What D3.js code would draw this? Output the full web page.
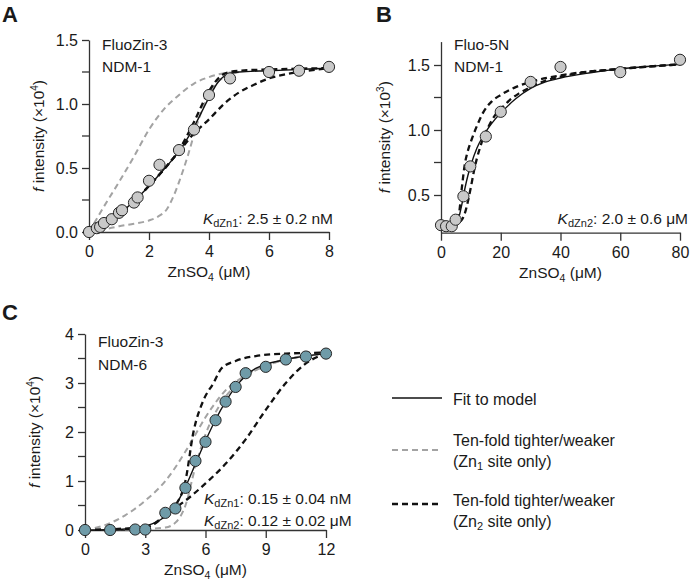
<!DOCTYPE html>
<html><head><meta charset="utf-8">
<script src="https://cdn.jsdelivr.net/npm/d3@7"></script>
<style>
body{margin:0;background:#fff}
svg{display:block}
text{font-family:"Liberation Sans",Arial,Helvetica,sans-serif;fill:#1a1a1a}
</style>
</head><body>
<svg id="chart" width="690" height="585"></svg>
<script>
// ---------- Panel A data (FluoZin-3 / NDM-1) ----------
const aPtsX = [0, 0.26, 0.37, 0.5, 0.76, 1.0, 1.1, 1.5, 1.62, 2.0, 2.35, 3.0, 3.5, 4.0, 4.7, 6.0, 7.0, 8.0];
const aPtsY = [0, 0.03, 0.04, 0.07, 0.10, 0.15, 0.17, 0.23, 0.27, 0.40, 0.525, 0.64, 0.80, 1.07, 1.20, 1.25, 1.26, 1.29];
const aFit = [[0,0],[0.25,0.025],[0.5,0.06],[1,0.14],[1.5,0.24],[2,0.36],[2.5,0.49],[3,0.63],[3.5,0.82],[4,1.05],[4.3,1.17],[4.6,1.23],[5,1.25],[6,1.26],[7,1.27],[8,1.28]];
const aZn2Tight = [[0,0],[0.5,0.06],[1,0.14],[1.5,0.24],[2,0.36],[2.5,0.49],[3,0.64],[3.5,0.86],[4,1.1],[4.4,1.22],[4.7,1.25],[5,1.26],[6,1.27],[8,1.28]];
const aZn2Weak = [[0,0],[0.5,0.06],[1,0.14],[1.5,0.24],[2,0.36],[2.5,0.49],[3,0.63],[3.5,0.77],[4,0.88],[4.5,1.0],[5,1.09],[5.5,1.15],[6,1.2],[6.5,1.23],[7,1.25],[8,1.28]];
const aZn1Tight = [[0,0],[0.25,0.1],[0.5,0.2],[1,0.39],[1.5,0.59],[2,0.8],[2.5,0.96],[3,1.07],[3.5,1.16],[4,1.21],[4.5,1.24],[5,1.25]];
const aZn1Weak = [[0,0],[0.5,0.02],[1,0.045],[1.5,0.065],[2,0.09],[2.3,0.12],[2.6,0.18],[2.8,0.27],[3,0.39],[3.3,0.6],[3.6,0.84],[3.9,1.03],[4.2,1.15],[4.5,1.21],[5,1.25]];
const aXTicks = [0, 2, 4, 6, 8];
const aYTicks = [0, 0.5, 1.0, 1.5];
const aYMinor = [0.25, 0.75, 1.25];

// ---------- Panel B data (Fluo-5N / NDM-1) ----------
const bPtsX = [0, 1.7, 3.6, 4.9, 7.5, 9.8, 15, 20, 30, 40, 60, 80];
const bPtsY = [0.268, 0.26, 0.26, 0.31, 0.49, 0.72, 0.95, 1.14, 1.37, 1.485, 1.445, 1.54];
const bFit = [[0,0.26],[4,0.26],[5,0.28],[6,0.33],[7,0.43],[8,0.55],[9,0.65],[10,0.73],[12,0.86],[14,0.95],[16,1.02],[18,1.08],[20,1.13],[25,1.24],[30,1.32],[35,1.37],[40,1.40],[50,1.44],[60,1.47],[70,1.49],[80,1.505]];
const bZn2Tight = [[0,0.26],[4,0.26],[5,0.28],[6,0.35],[7,0.56],[8,0.74],[9,0.84],[10,0.91],[12,1.03],[14,1.13],[17,1.22],[20,1.27],[25,1.33],[30,1.37],[40,1.42],[60,1.47],[80,1.505]];
const bZn2Weak = [[0,0.26],[5,0.27],[6,0.29],[7,0.31],[8,0.36],[9,0.45],[10,0.56],[11,0.68],[12,0.78],[13,0.86],[14,0.93],[16,1.03],[18,1.11],[20,1.16],[23,1.23],[26,1.28],[30,1.33],[35,1.38],[40,1.41],[50,1.45],[60,1.47],[80,1.505]];
const bXTicks = [0, 20, 40, 60, 80];
const bYTicks = [0.5, 1.0, 1.5];
const bYMinor = [0.75, 1.25];

// ---------- Panel C data (FluoZin-3 / NDM-6) ----------
const cPtsX = [0, 1.25, 2.5, 3.0, 4.0, 4.5, 5.0, 5.5, 6.0, 6.5, 7.0, 7.5, 8.0, 9.0, 10.0, 11.0, 12.0];
const cPtsY = [0, 0, 0.01, 0.01, 0.35, 0.44, 0.86, 1.41, 1.8, 2.24, 2.62, 2.92, 3.2, 3.33, 3.48, 3.54, 3.6];
const cFit = [[0,0],[1,0.005],[2,0.02],[3,0.08],[3.5,0.15],[4,0.28],[4.5,0.5],[5,0.88],[5.5,1.35],[6,1.82],[6.5,2.25],[7,2.62],[7.5,2.92],[8,3.15],[8.5,3.3],[9,3.38],[10,3.48],[11,3.55],[12,3.6]];
const cZn2Tight = [[0,0],[3,0.05],[4,0.3],[4.5,0.5],[5,1.0],[5.4,2.0],[5.9,2.65],[6.4,3.0],[6.8,3.3],[7.5,3.45],[8.5,3.55],[10,3.6],[12,3.62]];
const cZn2Weak = [[0,0],[3,0.05],[4,0.3],[4.5,0.45],[5,0.6],[6,0.95],[7,1.35],[8,1.85],[9,2.45],[10,3.0],[11,3.4],[12,3.6]];
const cZn1Tight = [[0,0],[1,0.1],[2,0.3],[3,0.6],[4,1.0],[5,1.6],[5.5,1.95],[6,2.3],[6.5,2.6],[7,2.85],[8,3.15],[9,3.35],[10,3.48],[11,3.55],[12,3.6]];
const cZn1Weak = [[0,0],[3,0.02],[4,0.05],[4.5,0.15],[5,0.5],[5.5,1.3],[6,1.95],[6.5,2.4],[7,2.72],[7.5,2.95],[8,3.15],[9,3.35],[10,3.48],[12,3.6]];
const cXTicks = [0, 3, 6, 9, 12];
const cYTicks = [0, 1, 2, 3, 4];
const cYMinor = [0.5, 1.5, 2.5, 3.5];

const svg = d3.select("#chart");
const GRAY = "#a3a3a3";

function drawPanel(o) {
  const x = d3.scaleLinear().domain(o.xDomain).range(o.xRange);
  const y = d3.scaleLinear().domain(o.yDomain).range(o.yRange);
  const g = svg.append("g");
  const line = d3.line().x(d => x(d[0])).y(d => y(d[1])).curve(d3.curveMonotoneX);

  // y axis
  const ya = g.append("g").attr("transform", `translate(${o.xRange[0]},0)`)
    .call(d3.axisLeft(y).tickValues(o.yTicks).tickFormat(o.yFmt).tickSize(7).tickSizeOuter(0).tickPadding(4));
  ya.append("g").selectAll("line").data(o.yMinor).join("line")
    .attr("x1", -7).attr("x2", 0).attr("y1", d => y(d)).attr("y2", d => y(d));
  // x axis
  const xa = g.append("g").attr("transform", `translate(0,${o.yRange[0]})`)
    .call(d3.axisBottom(x).tickValues(o.xTicks).tickFormat(d3.format("d")).tickSize(8).tickSizeOuter(0).tickPadding(6));
  [ya, xa].forEach(a => {
    a.selectAll("path.domain").attr("stroke", "#333").attr("stroke-width", 1.3);
    a.selectAll("line").attr("stroke", "#333").attr("stroke-width", 1.3);
    a.selectAll("text").attr("font-size", 16).attr("fill", "#1a1a1a")
      .attr("font-family", '"Liberation Sans",Arial,sans-serif');
  });

  // curves
  o.gray.forEach(c => g.append("path").datum(c).attr("d", line).attr("fill", "none")
    .attr("stroke", GRAY).attr("stroke-width", 2).attr("stroke-dasharray", "6,4"));
  o.black.forEach(c => g.append("path").datum(c).attr("d", line).attr("fill", "none")
    .attr("stroke", "#111").attr("stroke-width", 2.3).attr("stroke-dasharray", "6,4"));
  g.append("path").datum(o.fit).attr("d", line).attr("fill", "none")
    .attr("stroke", "#111").attr("stroke-width", 1.4);

  // points
  g.append("g").selectAll("circle").data(o.px.map((v, i) => [v, o.py[i]])).join("circle")
    .attr("cx", d => x(d[0])).attr("cy", d => y(d[1])).attr("r", 5.6)
    .attr("fill", o.ptFill).attr("stroke", "#262626").attr("stroke-width", 1);

  // y title
  const cx = o.yTitleX, cy = (o.yRange[0] + o.yRange[1]) / 2;
  const yt = g.append("text").attr("transform", `translate(${cx},${cy}) rotate(-90)`)
    .attr("text-anchor", "middle").attr("font-size", 15.5);
  yt.append("tspan").attr("font-style", "italic").text("f");
  yt.append("tspan").text(" intensity (×10");
  yt.append("tspan").attr("font-size", 10).attr("dy", -6).text(o.exp);
  yt.append("tspan").attr("dy", 6).text(")");

  // x title
  const xt = g.append("text").attr("x", (o.xRange[0] + o.xRange[1]) / 2).attr("y", o.yRange[0] + 45)
    .attr("text-anchor", "middle").attr("font-size", 15.5);
  xt.append("tspan").text("ZnSO");
  xt.append("tspan").attr("font-size", 10.5).attr("dy", 4).text("4");
  xt.append("tspan").attr("dy", -4).text("  (μM)");

  // labels
  o.labels.forEach((t, i) => g.append("text").attr("x", o.xRange[0] + 13).attr("y", o.labelY[i])
    .attr("font-size", 15.5).text(t));

  // Kd texts
  o.kd.forEach(k => {
    const tx = g.append("text").attr("x", k.x).attr("y", k.y).attr("text-anchor", k.anchor).attr("font-size", 15.5);
    tx.append("tspan").attr("font-style", "italic").text("K");
    tx.append("tspan").attr("font-size", 11).attr("dy", 3).text(k.sub);
    tx.append("tspan").attr("dy", -3).text(k.val);
  });

  svg.append("text").attr("x", o.letter[0]).attr("y", o.letter[1]).attr("font-size", 22)
    .attr("font-weight", "bold").text(o.letter[2]);
}

drawPanel({
  xDomain: [0, 8], xRange: [89, 329], yDomain: [0, 1.5], yRange: [232, 40],
  xTicks: aXTicks, yTicks: aYTicks, yMinor: aYMinor, yFmt: d3.format(".1f"),
  px: aPtsX, py: aPtsY, fit: aFit, black: [aZn2Tight, aZn2Weak], gray: [aZn1Tight, aZn1Weak],
  ptFill: "#c9c9c9", yTitleX: 44, exp: "4",
  labels: ["FluoZin-3", "NDM-1"], labelY: [50, 72],
  kd: [{x: 333, y: 224, anchor: "end", sub: "dZn1", val: ": 2.5 ± 0.2 nM"}],
  letter: [2, 22, "A"]
});

drawPanel({
  xDomain: [0, 80], xRange: [441, 680], yDomain: [0.21, 1.68], yRange: [232.7, 41.6],
  xTicks: bXTicks, yTicks: bYTicks, yMinor: bYMinor, yFmt: d3.format(".1f"),
  px: bPtsX, py: bPtsY, fit: bFit, black: [bZn2Tight, bZn2Weak], gray: [],
  ptFill: "#c9c9c9", yTitleX: 390, exp: "3",
  labels: ["Fluo-5N", "NDM-1"], labelY: [50, 72],
  kd: [{x: 688, y: 224, anchor: "end", sub: "dZn2", val: ": 2.0 ± 0.6 μM"}],
  letter: [376, 22, "B"]
});

drawPanel({
  xDomain: [0, 12], xRange: [85, 326], yDomain: [0, 4], yRange: [530, 334],
  xTicks: cXTicks, yTicks: cYTicks, yMinor: cYMinor, yFmt: d3.format("d"),
  px: cPtsX, py: cPtsY, fit: cFit, black: [cZn2Tight, cZn2Weak], gray: [cZn1Tight, cZn1Weak],
  ptFill: "#6f9ba8", yTitleX: 40, exp: "4",
  labels: ["FluoZin-3", "NDM-6"], labelY: [347, 370],
  kd: [{x: 204, y: 504, anchor: "start", sub: "dZn1", val: ": 0.15 ± 0.04 nM"},
       {x: 204, y: 526, anchor: "start", sub: "dZn2", val: ": 0.12 ± 0.02 μM"}],
  letter: [2, 320, "C"]
});

// ---------- Legend ----------
const legendItems = [
  {label: ["Fit to model"], color: "#111", dash: null, w: 1.4, ly: 398, ty: [405]},
  {label: ["Ten-fold tighter/weaker", "1"], color: GRAY, dash: "6,4", w: 2, ly: 450, ty: [446, 467]},
  {label: ["Ten-fold tighter/weaker", "2"], color: "#111", dash: "6,4", w: 2.3, ly: 504, ty: [506, 527]}
];
const lg = svg.append("g");
legendItems.forEach(it => {
  lg.append("line").attr("x1", 392).attr("x2", 442).attr("y1", it.ly).attr("y2", it.ly)
    .attr("stroke", it.color).attr("stroke-width", it.w).attr("stroke-dasharray", it.dash);
  lg.append("text").attr("x", 453).attr("y", it.ty[0]).attr("font-size", 16).text(it.label[0]);
  if (it.label.length > 1) {
    const t = lg.append("text").attr("x", 453).attr("y", it.ty[1]).attr("font-size", 16);
    t.append("tspan").text("(Zn");
    t.append("tspan").attr("font-size", 11).attr("dy", 3).text(it.label[1]);
    t.append("tspan").attr("dy", -3).text(" site only)");
  }
});
</script>
</body></html>
